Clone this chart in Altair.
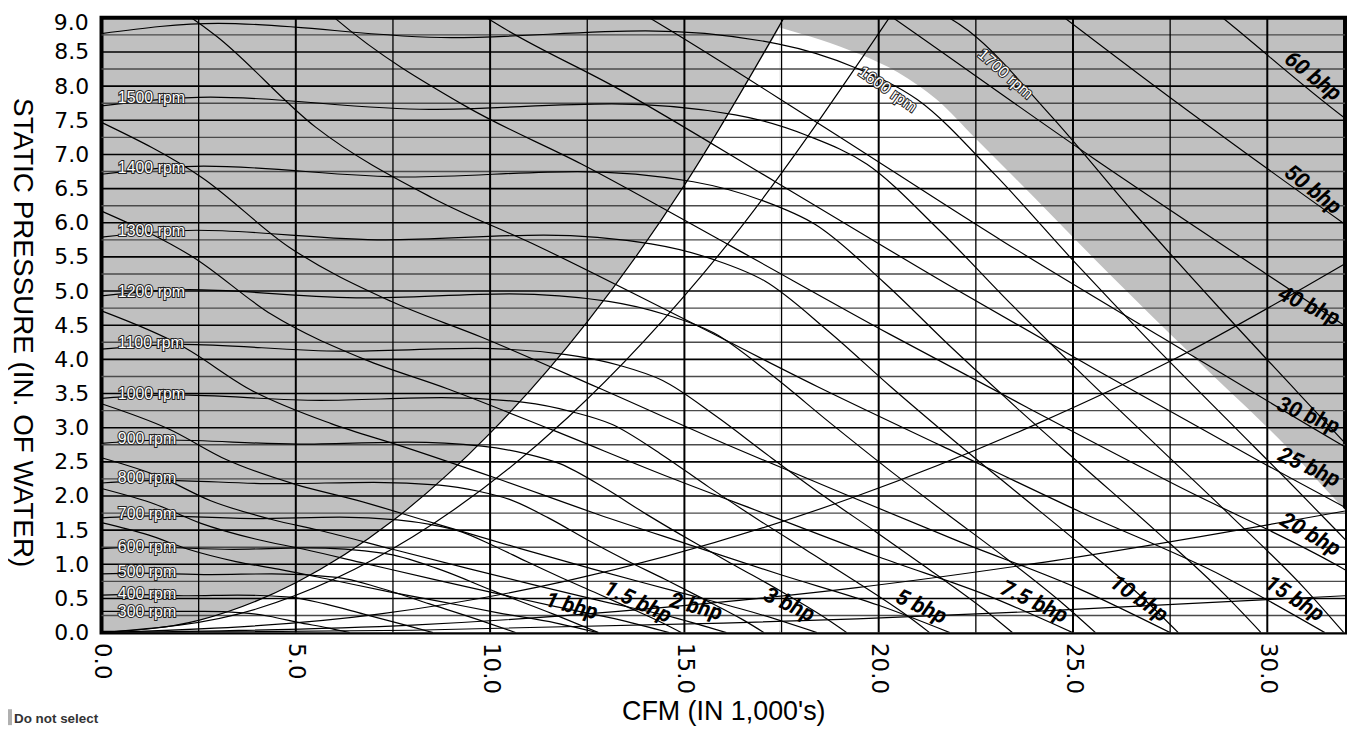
import altair as alt
import pandas as pd

# ---------------- axis ticks ----------------
x_ticks = [0, 5, 10, 15, 20, 25, 30]
y_ticks = [0, 0.5, 1, 1.5, 2, 2.5, 3, 3.5, 4, 4.5, 5, 5.5, 6, 6.5, 7, 7.5, 8, 8.5]
y_top_tick = [9]
y_top_label = ["9.0"]

# ---------------- grid ----------------
h_major = [0.5, 1, 1.5, 2, 2.5, 3, 3.5, 4, 4.5, 5, 5.5, 6, 6.5, 7, 7.5, 8, 8.5]
h_minor = [0.25, 0.75, 1.25, 1.75, 2.25, 2.75, 3.25, 3.75, 4.25, 4.75, 5.25, 5.75,
           6.25, 6.75, 7.25, 7.75, 8.25, 8.75]
v_major = [5, 10, 15, 20, 25, 30]
v_minor = [2.5, 7.5, 12.5, 17.5, 22.5, 27.5]

# ---------------- white (selectable) region ----------------
wl_x = [0, 2.5, 5, 7.5, 10, 12.5, 15, 17.45]
wl_y = [0, 0.18, 0.73, 1.64, 2.92, 4.55, 6.55, 8.86]
wr_x = [17.45, 18.5, 19.5, 20.5, 21.5, 22.5, 23.5, 24.5, 25.5, 26.5, 27.5, 28.5, 29.5, 30.5, 31.5, 32]
wr_y = [8.86, 8.68, 8.47, 8.2, 7.8, 7.23, 6.66, 6.08, 5.5, 4.93, 4.37, 3.82, 3.28, 2.72, 2.1, 1.8]

# ---------------- system curves ----------------
sysA_x = [0, 2.5, 5, 7.5, 10, 12.5, 15, 17.56]
sysA_y = [0, 0.18, 0.73, 1.64, 2.92, 4.55, 6.55, 9.0]
sysB_x = [0, 4, 8, 12, 16, 20.27]
sysB_y = [0, 0.35, 1.40, 3.15, 5.61, 9.0]
sysD_x = [0, 7.13, 12, 19.44, 24.13, 27.56, 32]
sysD_y = [0, 0.27, 0.76, 2.0, 3.07, 3.99, 5.4]
sysE_x = [0, 8, 16, 19.44, 24, 32]
sysE_y = [0, 0.11, 0.45, 0.66, 1.01, 1.78]
sysF_x = [0, 8, 16, 19.44, 24, 32]
sysF_y = [0, 0.035, 0.14, 0.2, 0.31, 0.54]

# ---------------- fan speed curves (rpm) ----------------
rpm300_x = [0, 0.56, 1.69, 2.63, 3.64, 4.31, 5.06, 5.81, 6.39]
rpm300_y = [0.31, 0.31, 0.31, 0.31, 0.29, 0.24, 0.15, 0.07, 0]
rpm400_x = [0, 0.75, 2.25, 3.5, 4.85, 5.75, 6.75, 7.75, 8.53]
rpm400_y = [0.55, 0.56, 0.54, 0.55, 0.52, 0.42, 0.27, 0.12, 0]
rpm500_x = [0, 0.94, 2.81, 4.38, 6.06, 7.19, 8.44, 9.69, 10.66]
rpm500_y = [0.86, 0.87, 0.85, 0.86, 0.81, 0.65, 0.42, 0.19, 0]
rpm600_x = [0, 1.13, 3.38, 5.25, 7.28, 8.63, 10.13, 11.63, 12.79]
rpm600_y = [1.23, 1.25, 1.22, 1.24, 1.16, 0.94, 0.60, 0.27, 0]
rpm700_x = [0, 1.31, 3.94, 6.13, 7.61, 8.49, 9.19, 10.06, 10.94, 11.81, 12.69, 13.56, 14.44, 14.92]
rpm700_y = [1.68, 1.71, 1.67, 1.69, 1.65, 1.58, 1.49, 1.28, 1.04, 0.81, 0.59, 0.37, 0.14, 0]
rpm800_x = [0, 1.5, 4.5, 7, 8.7, 9.7, 10.5, 11.5, 12.5, 13.5, 14.5, 15.5, 16.5, 17.05]
rpm800_y = [2.19, 2.23, 2.18, 2.20, 2.16, 2.07, 1.95, 1.68, 1.36, 1.06, 0.78, 0.49, 0.19, 0]
rpm900_x = [0, 1.69, 5.06, 7.88, 9.79, 10.91, 11.81, 12.94, 14.06, 15.19, 16.31, 17.44, 18.56, 19.18]
rpm900_y = [2.77, 2.82, 2.76, 2.79, 2.73, 2.62, 2.47, 2.12, 1.72, 1.34, 0.98, 0.62, 0.24, 0]
rpm1000_x = [0, 1.88, 5.63, 8.75, 10.88, 12.13, 13.13, 14.38, 15.63, 16.88, 18.13, 19.38, 20.63, 21.31]
rpm1000_y = [3.43, 3.48, 3.40, 3.44, 3.37, 3.23, 3.05, 2.62, 2.13, 1.66, 1.21, 0.76, 0.29, 0]
rpm1100_x = [0, 2.06, 6.19, 9.63, 11.96, 13.34, 14.44, 15.81, 17.19, 18.56, 19.94, 21.31, 22.69, 23.44]
rpm1100_y = [4.15, 4.22, 4.12, 4.16, 4.07, 3.91, 3.69, 3.17, 2.58, 2.01, 1.47, 0.92, 0.35, 0]
rpm1200_x = [0, 2.25, 6.75, 10.5, 13.05, 14.55, 15.75, 17.25, 18.75, 20.25, 21.75, 23.25, 24.75, 25.58]
rpm1200_y = [4.93, 5.02, 4.90, 4.96, 4.85, 4.65, 4.39, 3.77, 3.07, 2.39, 1.74, 1.10, 0.42, 0]
rpm1300_x = [0, 2.44, 7.31, 11.38, 14.14, 15.76, 17.06, 18.69, 20.31, 21.94, 23.56, 25.19, 26.81, 27.71]
rpm1300_y = [5.79, 5.89, 5.75, 5.82, 5.69, 5.46, 5.15, 4.42, 3.60, 2.81, 2.05, 1.29, 0.50, 0]
rpm1400_x = [0, 2.63, 7.88, 12.25, 15.23, 16.98, 18.38, 20.13, 21.88, 23.63, 25.38, 27.13, 28.88, 29.84]
rpm1400_y = [6.71, 6.83, 6.67, 6.75, 6.60, 6.33, 5.97, 5.13, 4.17, 3.25, 2.37, 1.49, 0.57, 0]
rpm1500_x = [0, 2.81, 8.44, 13.13, 16.31, 18.19, 19.69, 21.56, 23.44, 25.31, 27.19, 29.06, 30.94, 31.97]
rpm1500_y = [7.71, 7.84, 7.66, 7.74, 7.58, 7.27, 6.86, 5.89, 4.79, 3.74, 2.72, 1.71, 0.66, 0]
rpm1600_x = [0, 3, 9, 14, 17.4, 19.4, 21, 23, 25, 27, 29, 31, 33, 34.1]
rpm1600_y = [8.77, 8.92, 8.71, 8.81, 8.62, 8.27, 7.8, 6.7, 5.45, 4.25, 3.1, 1.95, 0.75, 0]
rpm1700_x = [18.49, 20.61, 22.31, 24.44, 26.56, 28.69, 30.81, 32.94]
rpm1700_y = [9.73, 9.34, 8.81, 7.56, 6.15, 4.80, 3.50, 2.20]

# ---------------- brake horsepower curves ----------------
bhp1_x = [0, 1.20, 2.23, 3.46, 4.55, 5.94, 7.47, 8.77, 10.21, 11.70, 12.77]
bhp1_y = [1.61, 1.43, 1.22, 1.04, 0.93, 0.77, 0.59, 0.45, 0.29, 0.14, 0]
bhp1_5_x = [0, 1.38, 2.56, 3.96, 5.21, 6.80, 8.55, 10.04, 11.69, 13.39, 14.61]
bhp1_5_y = [2.11, 1.88, 1.60, 1.37, 1.22, 1.01, 0.78, 0.59, 0.38, 0.18, 0]
bhp2_x = [0, 1.51, 2.81, 4.36, 5.73, 7.49, 9.42, 11.05, 12.87, 14.74, 16.08]
bhp2_y = [2.56, 2.28, 1.93, 1.66, 1.48, 1.22, 0.94, 0.71, 0.46, 0.22, 0]
bhp3_x = [0, 1.73, 3.22, 4.99, 6.56, 8.57, 10.78, 12.65, 14.73, 16.87, 18.41]
bhp3_y = [3.35, 2.98, 2.53, 2.17, 1.94, 1.60, 1.23, 0.93, 0.61, 0.28, 0]
bhp5_x = [0, 2.06, 3.82, 5.91, 7.78, 10.16, 12.78, 15.00, 17.46, 20.00, 21.83]
bhp5_y = [4.71, 4.20, 3.56, 3.06, 2.72, 2.26, 1.73, 1.31, 0.85, 0.40, 0]
bhp7_5_x = [0, 2.35, 4.37, 6.77, 8.90, 11.63, 14.63, 17.17, 19.99, 22.90, 24.99]
bhp7_5_y = [6.17, 5.50, 4.66, 4.00, 3.57, 2.96, 2.27, 1.72, 1.11, 0.52, 0]
bhp10_x = [0, 2.59, 4.81, 7.45, 9.80, 12.80, 16.10, 18.90, 22.00, 25.20, 27.50]
bhp10_y = [7.47, 6.66, 5.65, 4.85, 4.32, 3.58, 2.75, 2.08, 1.35, 0.63, 0]
bhp15_x = [0, 2.96, 5.51, 8.53, 11.22, 14.65, 18.43, 21.63, 25.18, 28.85, 31.48]
bhp15_y = [9.79, 8.73, 7.40, 6.36, 5.66, 4.69, 3.60, 2.73, 1.77, 0.83, 0]
bhp20_x = [0, 3.26, 6.06, 9.39, 12.35, 16.13, 20.28, 23.81, 27.72, 31.75, 34.65]
bhp20_y = [11.86, 10.57, 8.97, 7.70, 6.86, 5.68, 4.37, 3.30, 2.14, 1.00, 0]
bhp25_x = [3.52, 6.53, 10.11, 13.30, 17.37, 21.85, 25.65, 29.86, 34.20]
bhp25_y = [12.27, 10.41, 8.93, 7.96, 6.59, 5.07, 3.83, 2.49, 1.16]
bhp30_x = [6.94, 10.74, 14.13, 18.46, 23.22, 27.26, 31.73, 36.34]
bhp30_y = [11.75, 10.09, 8.99, 7.45, 5.72, 4.33, 2.81, 1.31]
bhp40_x = [11.83, 15.56, 20.32, 25.56, 30.00, 34.92]
bhp40_y = [12.22, 10.89, 9.02, 6.93, 5.24, 3.40]
bhp50_x = [16.76, 21.89, 27.53, 32.32, 37.62]
bhp50_y = [12.40, 10.25, 7.82, 5.85, 3.80]
bhp60_x = [17.81, 23.26, 28.85, 32.0, 34.34]
bhp60_y = [14.0, 11.5, 9.0, 7.53, 6.6]

# ---------------- labels ----------------
rpm_label_text = ["300 rpm", "400 rpm", "500 rpm", "600 rpm", "700 rpm", "800 rpm", "900 rpm",
                  "1000 rpm", "1100 rpm", "1200 rpm", "1300 rpm", "1400 rpm", "1500 rpm"]
rpm_label_x = [0.42] * 13
rpm_label_y = [0.30, 0.57, 0.89, 1.25, 1.73, 2.26, 2.83, 3.49, 4.24, 4.98, 5.88, 6.80, 7.82]

rpm_tilt_text = ["1600 rpm", "1700 rpm"]
rpm_tilt_x = [20.23, 23.26]
rpm_tilt_y = [7.95, 8.18]
rpm_tilt_angle = [35, 41]

# labels sitting inside the plot (centred)
bhp_label_text = ["1 bhp", "1.5 bhp", "2 bhp", "3 bhp", "5 bhp", "7.5 bhp", "10 bhp", "15 bhp"]
bhp_label_x = [12.1, 13.8, 15.3, 17.7, 21.1, 24.0, 26.7, 30.7]
bhp_label_y = [0.39, 0.45, 0.38, 0.41, 0.38, 0.45, 0.50, 0.50]
bhp_label_angle = [15, 25, 15, 25, 25, 25, 35, 33]

# labels running into the right frame (right-aligned at the frame)
bhp_edge_text = ["20 bhp", "25 bhp", "30 bhp", "40 bhp", "50 bhp", "60 bhp"]
bhp_edge_x = [31.84, 31.84, 31.84, 31.84, 31.84, 31.84]
bhp_edge_y = [1.20, 2.22, 3.00, 4.58, 6.19, 7.85]
bhp_edge_angle = [30, 25, 22, 25, 38, 38]


def curves(pairs):
    rows = []
    for name, xs, ys in pairs:
        for a, b in zip(xs, ys):
            rows.append({"curve": name, "x": a, "y": b})
    return pd.DataFrame(rows)


rpm_df = curves([
    ("300", rpm300_x, rpm300_y), ("400", rpm400_x, rpm400_y), ("500", rpm500_x, rpm500_y),
    ("600", rpm600_x, rpm600_y), ("700", rpm700_x, rpm700_y), ("800", rpm800_x, rpm800_y),
    ("900", rpm900_x, rpm900_y), ("1000", rpm1000_x, rpm1000_y), ("1100", rpm1100_x, rpm1100_y),
    ("1200", rpm1200_x, rpm1200_y), ("1300", rpm1300_x, rpm1300_y), ("1400", rpm1400_x, rpm1400_y),
    ("1500", rpm1500_x, rpm1500_y), ("1600", rpm1600_x, rpm1600_y), ("1700", rpm1700_x, rpm1700_y),
])
bhp_df = curves([
    ("1", bhp1_x, bhp1_y), ("1.5", bhp1_5_x, bhp1_5_y), ("2", bhp2_x, bhp2_y), ("3", bhp3_x, bhp3_y),
    ("5", bhp5_x, bhp5_y), ("7.5", bhp7_5_x, bhp7_5_y), ("10", bhp10_x, bhp10_y),
    ("15", bhp15_x, bhp15_y), ("20", bhp20_x, bhp20_y), ("25", bhp25_x, bhp25_y),
    ("30", bhp30_x, bhp30_y), ("40", bhp40_x, bhp40_y), ("50", bhp50_x, bhp50_y),
    ("60", bhp60_x, bhp60_y),
])
sys_df = curves([("A", sysA_x, sysA_y), ("B", sysB_x, sysB_y), ("D", sysD_x, sysD_y),
                 ("E", sysE_x, sysE_y), ("F", sysF_x, sysF_y)])
white_left = pd.DataFrame({"x": wl_x, "y": wl_y})
white_right = pd.DataFrame({"x": wr_x, "y": wr_y})

AX_FONT = "Liberation Sans"
WIDE_FONT = "DejaVu Sans"
X_SCALE = alt.Scale(domain=[0, 32], nice=False, zero=False)
Y_SCALE = alt.Scale(domain=[0, 9], nice=False, zero=False)

x_axis = alt.Axis(values=x_ticks, format=".1f", labelAngle=90, labelAlign="left",
                  labelBaseline="middle", labelFontSize=23, labelFont=WIDE_FONT, labelPadding=10,
                  ticks=False, domain=False, grid=False, labelFlush=False, labelOverlap=False,
                  title="CFM (IN 1,000's)", titleFontSize=27, titleFont=AX_FONT,
                  titleFontWeight="normal", titleY=79, titleBaseline="middle")
y_axis = alt.Axis(values=y_ticks, format=".1f", labelFontSize=22, labelFont=WIDE_FONT,
                  labelPadding=13, ticks=False, domain=False, grid=False, labelFlush=False,
                  labelOverlap=False,
                  title="STATIC PRESSURE (IN. OF WATER)", titleFontSize=28, titleFont=AX_FONT,
                  titleFontWeight="normal", titleAngle=90, titleX=-80, titleY=316,
                  titleAlign="center", titleBaseline="middle")


def X(f="x"):
    return alt.X(f"{f}:Q", scale=X_SCALE, axis=x_axis)


def Y(f="y"):
    return alt.Y(f"{f}:Q", scale=Y_SCALE, axis=y_axis, stack=None)


white_l = alt.Chart(white_left).mark_area(color="white", interpolate="monotone", clip=True).encode(
    x=X(), y=Y())
white_r = alt.Chart(white_right).mark_area(color="white", interpolate="monotone", clip=True).encode(
    x=X(), y=Y())

gh_minor = alt.Chart(pd.DataFrame({"v": h_minor})).mark_rule(color="#4a4a4a", strokeWidth=1.4).encode(y=Y("v"))
gh_major = alt.Chart(pd.DataFrame({"v": h_major})).mark_rule(color="black", strokeWidth=1.6).encode(y=Y("v"))
gv_minor = alt.Chart(pd.DataFrame({"v": v_minor})).mark_rule(color="black", strokeWidth=1.3).encode(x=X("v"))
gv_major = alt.Chart(pd.DataFrame({"v": v_major})).mark_rule(color="black", strokeWidth=2.0).encode(x=X("v"))

line_style = dict(color="black", strokeWidth=1.2, interpolate="monotone", clip=True)
sys_lines = alt.Chart(sys_df).mark_line(**line_style).encode(x=X(), y=Y(), detail="curve:N")
bhp_lines = alt.Chart(bhp_df).mark_line(**line_style).encode(x=X(), y=Y(), detail="curve:N")
rpm_lines = alt.Chart(rpm_df).mark_line(**line_style).encode(x=X(), y=Y(), detail="curve:N")

rpm_lab_df = pd.DataFrame({"x": rpm_label_x, "y": rpm_label_y, "t": rpm_label_text})
rpm_tilt_df = pd.DataFrame({"x": rpm_tilt_x, "y": rpm_tilt_y, "t": rpm_tilt_text, "a": rpm_tilt_angle})
lab_style = dict(baseline="middle", fontSize=16, font=AX_FONT)
rpm_lab_halo = alt.Chart(rpm_lab_df).mark_text(
    align="left", fill="black", stroke="#222222", strokeWidth=2.0, **lab_style).encode(
    x=X(), y=Y(), text="t:N")
rpm_lab = alt.Chart(rpm_lab_df).mark_text(align="left", fill="white", **lab_style).encode(
    x=X(), y=Y(), text="t:N")
rpm_tilt_halo = alt.Chart(rpm_tilt_df).mark_text(
    align="center", fill="black", stroke="#222222", strokeWidth=2.0, **lab_style).encode(
    x=X(), y=Y(), text="t:N", angle=alt.Angle("a:Q", scale=None))
rpm_tilt = alt.Chart(rpm_tilt_df).mark_text(align="center", fill="white", **lab_style).encode(
    x=X(), y=Y(), text="t:N", angle=alt.Angle("a:Q", scale=None))

bhp_style = dict(baseline="middle", fontSize=22, font="Roboto", fontWeight="bold",
                 fontStyle="italic", color="black")
bhp_lab = alt.Chart(pd.DataFrame({"x": bhp_label_x, "y": bhp_label_y, "t": bhp_label_text,
                                  "a": bhp_label_angle})).mark_text(align="center", **bhp_style).encode(
    x=X(), y=Y(), text="t:N", angle=alt.Angle("a:Q", scale=None))
bhp_edge = alt.Chart(pd.DataFrame({"x": bhp_edge_x, "y": bhp_edge_y, "t": bhp_edge_text,
                                   "a": bhp_edge_angle})).mark_text(align="right", **bhp_style).encode(
    x=X(), y=Y(), text="t:N", angle=alt.Angle("a:Q", scale=None))

top_label = alt.Chart(pd.DataFrame({"y": y_top_tick, "t": y_top_label})).mark_text(
    align="right", baseline="middle", fontSize=22, font=WIDE_FONT, color="black", dy=5).encode(
    x=alt.value(-13), y=Y(), text="t:N")

note_bar = alt.Chart(pd.DataFrame({"t": ["Do not select"]})).mark_rect(color="#b0b0b0").encode(
    x=alt.value(-94), x2=alt.value(-90), y=alt.value(695), y2=alt.value(711))
note = alt.Chart(pd.DataFrame({"t": ["Do not select"]})).mark_text(
    align="left", baseline="alphabetic", fontSize=13.5, fontWeight="bold", font=AX_FONT,
    color="#333333").encode(x=alt.value(-88), y=alt.value(709), text="t:N")

chart = alt.layer(
    white_l, white_r, gh_minor, gh_major, gv_minor, gv_major, sys_lines, bhp_lines, rpm_lines,
    rpm_lab_halo, rpm_lab, rpm_tilt_halo, rpm_tilt, bhp_lab, bhp_edge, top_label, note_bar, note
).properties(
    width=1250, height=618,
    autosize=alt.AutoSizeParams(type="none"),
    padding={"left": 94, "top": 8, "right": 2, "bottom": 95},
).configure_view(
    fill="#c0c0c0", stroke="black", strokeWidth=4
).configure_axis(labelColor="black", titleColor="black")

chart.save("out.html", embed_options={"renderer": "svg", "actions": False})
